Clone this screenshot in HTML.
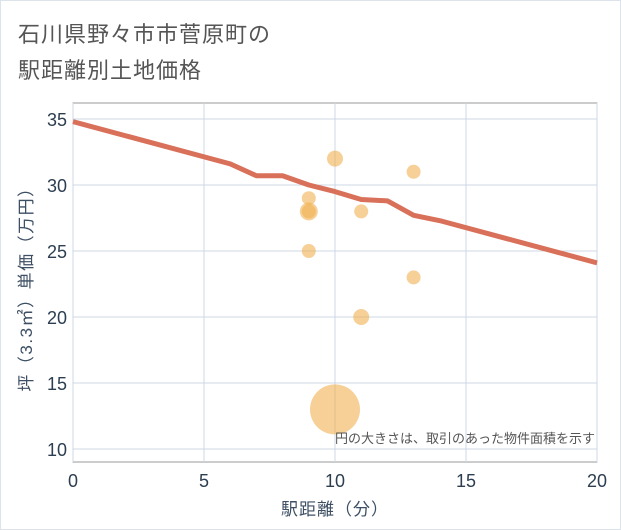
<!DOCTYPE html>
<html><head><meta charset="utf-8"><style>
body{margin:0;background:#fff;font-family:"Liberation Sans","Noto Sans CJK JP",sans-serif;}
#wrap{position:relative;width:619px;height:528px;border:1px solid #dde3ea;overflow:hidden}
.t{position:absolute;left:17px;font-size:22px;color:#555;letter-spacing:1px}
</style></head><body>
<div id="wrap">
<div class="t" style="top:16px">石川県野々市市菅原町の</div>
<div class="t" style="top:52px">駅距離別土地価格</div>
<svg id="c" width="621" height="530" style="position:absolute;left:-1px;top:-1px"></svg>
</div>
<script>
const xTicks=[0,5,10,15,20];
const yTicks=[10,15,20,25,30,35];
const lineX=[0,6,7,8,9,10,11,12,13,14,20];
const lineY=[34.8,31.6,30.7,30.7,30.0,29.5,28.9,28.8,27.7,27.3,24.1];
const bubX=[10,9,9,9,9,10,11,11,13,13];
const bubY=[13,29,28,28,25,32,28,20,31,23];
const bubR=[25,7,9,7,7,8,7,8,7,7];
const L=73,R=597,T=103,B=462;
const sx=v=>L+(v-0)/20*(R-L);
const sy=v=>449-(v-10)/25*330;
const svg=document.getElementById('c');const NS='http://www.w3.org/2000/svg';
function mk(tag,at,name){const e=document.createElementNS(NS,tag);for(const k in at)e.setAttribute(k,at[k]);


svg.appendChild(e);return e;}
mk('rect',{x:L,y:T,width:R-L,height:B-T,fill:'#fff',stroke:'#999','stroke-width':1},'plot-area');
xTicks.forEach(v=>{mk('line',{x1:sx(v),x2:sx(v),y1:T,y2:B,stroke:'#ccd8e4','stroke-width':1},'x-gridline');
const t=mk('text',{x:sx(v),y:487,'text-anchor':'middle','font-size':18,fill:'#2c3e50'},'x-tick-label');t.textContent=v;});
yTicks.forEach(v=>{mk('line',{x1:L,x2:R,y1:sy(v),y2:sy(v),stroke:'#ccd8e4','stroke-width':1},'y-gridline');
const t=mk('text',{x:67,y:sy(v)+7,'text-anchor':'end','font-size':18,fill:'#2c3e50'},'y-tick-label');t.textContent=v;});
mk('polyline',{points:lineX.map((x,i)=>sx(x)+','+sy(lineY[i])).join(' '),fill:'none',stroke:'#d9705a','stroke-width':5,'stroke-linejoin':'round'},'trend-line');
bubX.forEach((x,i)=>{mk('circle',{cx:sx(x),cy:sy(bubY[i]),r:bubR[i],fill:'#f0b150','fill-opacity':0.6},'bubble-point');});
let t=mk('text',{x:595,y:443,'text-anchor':'end','font-size':13,fill:'#555'},'bubble-size-note');t.textContent='円の大きさは、取引のあった物件面積を示す';
t=mk('text',{x:335,y:515,'text-anchor':'middle','font-size':17,fill:'#3d4f63','letter-spacing':1},'x-axis-title');t.textContent='駅距離（分）';
t=mk('text',{x:0,y:0,'text-anchor':'middle','font-size':17,fill:'#3d4f63','letter-spacing':1.5,transform:'translate(32,285) rotate(-90)'},'y-axis-title');t.textContent='坪（3.3㎡）単価（万円）';
</script>
</body></html>
